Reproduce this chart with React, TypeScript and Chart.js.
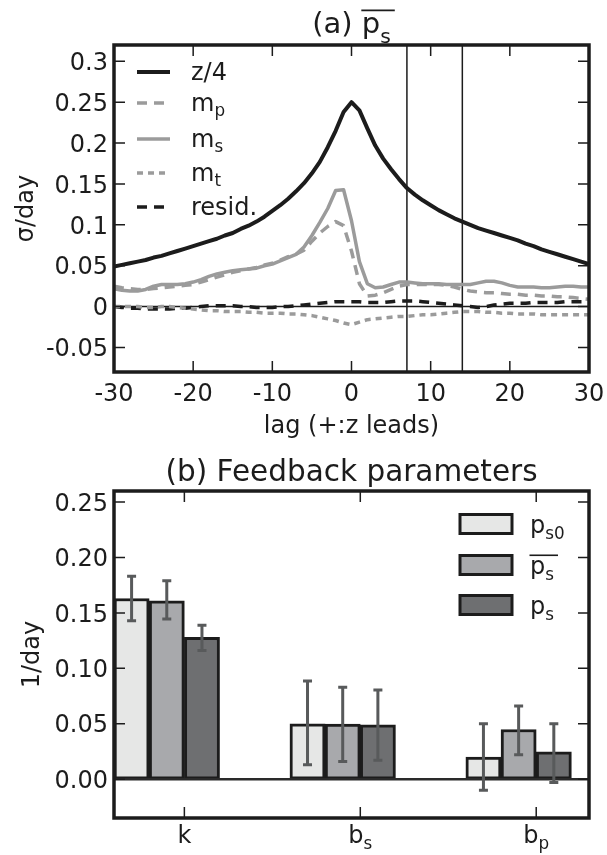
import React, { useEffect, useRef } from 'react';
import { Chart, registerables } from 'chart.js';

Chart.register(...registerables);

const FONT = '"DejaVu Sans", "Liberation Sans", sans-serif';
const INK = '#1c1c1c';
const GRAY = '#9b9b9b';

// ---------- (a) panel data ----------
const lags = [
  -30, -29, -28, -27, -26, -25, -24, -23, -22, -21, -20, -19, -18, -17, -16, -15, -14, -13, -12, -11,
  -10, -9, -8, -7, -6, -5, -4, -3, -2, -1, 0, 1, 2, 3, 4, 5, 6, 7, 8, 9, 10, 11, 12, 13, 14, 15, 16,
  17, 18, 19, 20, 21, 22, 23, 24, 25, 26, 27, 28, 29, 30,
];
const zQuarter = [
  0.049, 0.051, 0.053, 0.055, 0.057, 0.06, 0.062, 0.065, 0.068, 0.071, 0.074, 0.077, 0.08, 0.083, 0.087,
  0.09, 0.095, 0.099, 0.104, 0.11, 0.117, 0.124, 0.132, 0.141, 0.151, 0.163, 0.177, 0.195, 0.215, 0.238,
  0.25, 0.24, 0.218, 0.197, 0.181, 0.168, 0.156, 0.145, 0.137, 0.13, 0.124, 0.118, 0.113, 0.108, 0.104,
  0.1, 0.096, 0.093, 0.09, 0.087, 0.084, 0.081, 0.077, 0.074, 0.07, 0.067, 0.064, 0.061, 0.058, 0.055, 0.052,
];
const mP = [
  0.025, 0.023, 0.022, 0.021, 0.021, 0.022, 0.023, 0.024, 0.025, 0.026, 0.027, 0.03, 0.033, 0.036, 0.039,
  0.042, 0.044, 0.046, 0.048, 0.051, 0.053, 0.057, 0.061, 0.064, 0.069, 0.08, 0.09, 0.098, 0.104, 0.099,
  0.068, 0.028, 0.013, 0.014, 0.017, 0.021, 0.025, 0.027, 0.027, 0.027, 0.027, 0.027, 0.026, 0.024, 0.021,
  0.019, 0.018, 0.017, 0.017, 0.016, 0.015, 0.015, 0.014, 0.014, 0.013, 0.013, 0.012, 0.012, 0.011, 0.01, 0.009,
];
const mS = [
  0.022, 0.02, 0.019, 0.019, 0.021, 0.025, 0.027, 0.027, 0.027, 0.028, 0.03, 0.033, 0.037, 0.04, 0.042,
  0.044, 0.045, 0.046, 0.047, 0.05, 0.052, 0.056, 0.06, 0.064, 0.073, 0.087, 0.103, 0.12, 0.142, 0.143,
  0.105, 0.055, 0.028, 0.023, 0.024, 0.027, 0.03, 0.03, 0.029, 0.028, 0.028, 0.028, 0.027, 0.027, 0.027,
  0.027, 0.029, 0.031, 0.031, 0.029, 0.026, 0.024, 0.024, 0.024, 0.023, 0.023, 0.024, 0.025, 0.025, 0.024, 0.024,
];
const mT = [
  0.0, 0.0, 0.0, 0.0, -0.001, -0.001, 0.0, 0.0, -0.001, -0.002, -0.003, -0.004, -0.005, -0.005, -0.006,
  -0.006, -0.006, -0.007, -0.007, -0.008, -0.008, -0.008, -0.009, -0.009, -0.01, -0.011, -0.013, -0.015,
  -0.017, -0.02, -0.022, -0.019, -0.016, -0.015, -0.014, -0.013, -0.012, -0.012, -0.011, -0.01, -0.01,
  -0.009, -0.008, -0.007, -0.006, -0.006, -0.006, -0.007, -0.007, -0.008, -0.008, -0.009, -0.009, -0.009,
  -0.01, -0.01, -0.01, -0.01, -0.01, -0.01, -0.01,
];
const resid = [
  0.0, -0.001, -0.002, -0.002, -0.003, -0.003, -0.003, -0.003, -0.002, -0.002, -0.001, 0.0, 0.001, 0.001,
  0.001, 0.001, 0.0, 0.0, -0.001, -0.001, -0.001, 0.0, 0.0, 0.001, 0.002, 0.003, 0.004, 0.005, 0.006, 0.006,
  0.006, 0.006, 0.005, 0.005, 0.005, 0.006, 0.007, 0.007, 0.007, 0.006, 0.005, 0.004, 0.003, 0.002, 0.001,
  0.0, -0.001, 0.0, 0.002, 0.003, 0.004, 0.004, 0.004, 0.005, 0.005, 0.005, 0.005, 0.006, 0.006, 0.006, 0.006,
];
const lineLabels = ['z/4', 'm_p', 'm_s', 'm_t', 'resid.'];
const markerLags = [7, 14];
const topXTicks = [-30, -20, -10, 0, 10, 20, 30];
const topYTicks = [-0.05, 0, 0.05, 0.1, 0.15, 0.2, 0.25, 0.3];
const topTitle = ['(a) ', '‾p_s'];
const topXLabel = 'lag (+:z leads)';
const topYLabel = 'σ/day';

// ---------- (b) panel data ----------
const paramNames = ['k', 'b_s', 'b_p'];
const paramPositions = [0, 1, 2];
const groupOffsets = [-0.3, -0.1, 0.1];
const barLabels = ['p_s0', '‾p_s', 'p_s'];
const barPs0 = [0.163, 0.05, 0.02];
const barPsBar = [0.161, 0.0497, 0.0448];
const barPs = [0.128, 0.049, 0.0246];
const errLowPs0 = [0.143, 0.013, -0.01];
const errHighPs0 = [0.183, 0.0885, 0.05];
const errLowPsBar = [0.1445, 0.016, 0.022];
const errHighPsBar = [0.179, 0.083, 0.066];
const errLowPs = [0.116, 0.017, -0.003];
const errHighPs = [0.139, 0.0805, 0.05];
const botYTicks = [0, 0.05, 0.1, 0.15, 0.2, 0.25];
const botTitle = ['(b) Feedback parameters'];
const botYLabel = '1/day';

const barColors = ['#e6e7e6', '#a8a9ac', '#6e6f71'];

const TOP_H = 445;
const BOT_H = 855 - TOP_H;

// ---------- rich text helpers ----------
function parseLabel(s: string) {
  let over = false;
  if (s.startsWith('‾')) {
    over = true;
    s = s.slice(1);
  }
  const i = s.indexOf('_');
  return { main: i < 0 ? s : s.slice(0, i), sub: i < 0 ? '' : s.slice(i + 1), over };
}

function measureRich(ctx: CanvasRenderingContext2D, s: string, size: number) {
  const { main, sub } = parseLabel(s);
  ctx.font = `${size}px ${FONT}`;
  const w1 = ctx.measureText(main).width;
  ctx.font = `${size * 0.7}px ${FONT}`;
  const w2 = sub ? ctx.measureText(sub).width : 0;
  return { w1, w2, w: w1 + w2 };
}

function drawRich(
  ctx: CanvasRenderingContext2D,
  s: string,
  x: number,
  y: number,
  size: number,
  subShift = 0.22,
) {
  const { main, sub, over } = parseLabel(s);
  const m = measureRich(ctx, s, size);
  ctx.fillStyle = INK;
  ctx.textAlign = 'left';
  ctx.textBaseline = 'alphabetic';
  ctx.font = `${size}px ${FONT}`;
  ctx.fillText(main, x, y);
  if (sub) {
    ctx.font = `${size * 0.7}px ${FONT}`;
    ctx.fillText(sub, x + m.w1, y + size * subShift);
  }
  if (over) {
    ctx.save();
    ctx.strokeStyle = INK;
    ctx.lineWidth = 1.6;
    ctx.beginPath();
    const oy = y - size * 0.78;
    ctx.moveTo(x - 0.5, oy);
    ctx.lineTo(x + m.w + 4, oy);
    ctx.stroke();
    ctx.restore();
  }
  return m.w;
}

function drawRichSeq(
  ctx: CanvasRenderingContext2D,
  parts: string[],
  cx: number,
  y: number,
  size: number,
  subShift = 0.22,
) {
  const total = parts.reduce((a, p) => a + measureRich(ctx, p, size).w, 0);
  let x = cx - total / 2;
  for (const p of parts) x += drawRich(ctx, p, x, y, size, subShift);
}

function drawFrameAndTicks(chart: any, xTicks: number[], yTicks: number[]) {
  const { ctx, chartArea: a } = chart;
  const xs = chart.scales.x;
  const ys = chart.scales.y;
  const L = 11;
  ctx.save();
  ctx.strokeStyle = INK;
  ctx.lineWidth = 1.5;
  ctx.beginPath();
  for (const v of xTicks) {
    const px = xs.getPixelForValue(v);
    ctx.moveTo(px, a.bottom);
    ctx.lineTo(px, a.bottom - L);
    ctx.moveTo(px, a.top);
    ctx.lineTo(px, a.top + L);
  }
  for (const v of yTicks) {
    const py = ys.getPixelForValue(v);
    ctx.moveTo(a.left, py);
    ctx.lineTo(a.left + L, py);
    ctx.moveTo(a.right, py);
    ctx.lineTo(a.right - L, py);
  }
  ctx.stroke();
  ctx.lineWidth = 3.5;
  ctx.strokeRect(a.left, a.top, a.right - a.left, a.bottom - a.top);
  ctx.restore();
}

function drawRotated(ctx: CanvasRenderingContext2D, text: string, x: number, y: number, size: number) {
  ctx.save();
  ctx.translate(x, y);
  ctx.rotate(-Math.PI / 2);
  ctx.font = `${size}px ${FONT}`;
  ctx.fillStyle = INK;
  ctx.textAlign = 'center';
  ctx.textBaseline = 'alphabetic';
  ctx.fillText(text, 0, 0);
  ctx.restore();
}

const fmtTop = (v: number) => String(Number(v.toFixed(2)));

const topPlugin = {
  id: 'topDecor',
  beforeDatasetsDraw(chart: any) {
    const { ctx, chartArea: a } = chart;
    const xs = chart.scales.x;
    const ys = chart.scales.y;
    ctx.save();
    ctx.strokeStyle = INK;
    ctx.lineWidth = 1.5;
    ctx.beginPath();
    const y0 = ys.getPixelForValue(0);
    ctx.moveTo(a.left, y0);
    ctx.lineTo(a.right, y0);
    for (const m of markerLags) {
      const px = xs.getPixelForValue(m);
      ctx.moveTo(px, a.top);
      ctx.lineTo(px, a.bottom);
    }
    ctx.stroke();
    ctx.restore();
  },
  afterDraw(chart: any) {
    const { ctx, chartArea: a } = chart;
    const xs = chart.scales.x;
    const ys = chart.scales.y;
    drawFrameAndTicks(chart, topXTicks, topYTicks);
    ctx.save();
    ctx.fillStyle = INK;
    ctx.font = `24px ${FONT}`;
    ctx.textBaseline = 'alphabetic';
    ctx.textAlign = 'right';
    for (const v of topYTicks) {
      ctx.fillText(fmtTop(v), a.left - 6, ys.getPixelForValue(v) + 8.7);
    }
    ctx.textAlign = 'center';
    for (const v of topXTicks) {
      ctx.fillText(String(v), xs.getPixelForValue(v), a.bottom + 28.5);
    }
    ctx.fillText(topXLabel, (a.left + a.right) / 2, a.bottom + 61);
    ctx.restore();
    drawRotated(ctx, topYLabel, 33, (a.top + a.bottom) / 2, 24);
    drawRichSeq(ctx, topTitle, (a.left + a.right) / 2, a.top - 12, 29, 0.34);

    // legend
    const rows = [27, 58, 94, 128, 162];
    const ds = chart.data.datasets;
    rows.forEach((dy, i) => {
      const ry = a.top + dy;
      const d = ds[i];
      ctx.save();
      ctx.strokeStyle = d.borderColor;
      ctx.lineWidth = d.borderWidth;
      ctx.setLineDash(d.borderDash || []);
      ctx.beginPath();
      ctx.moveTo(a.left + 23, ry);
      ctx.lineTo(a.left + 56, ry);
      ctx.stroke();
      ctx.restore();
      drawRich(ctx, lineLabels[i], a.left + 77, ry + 8, 24, 0.22);
    });
  },
};

const errLows = [errLowPs0, errLowPsBar, errLowPs];
const errHighs = [errHighPs0, errHighPsBar, errHighPs];

const botPlugin = {
  id: 'botDecor',
  afterDatasetsDraw(chart: any) {
    const { ctx, chartArea: a } = chart;
    const ys = chart.scales.y;
    ctx.save();
    ctx.strokeStyle = '#2a2a2a';
    ctx.lineWidth = 2.5;
    ctx.beginPath();
    const y0 = ys.getPixelForValue(0);
    ctx.moveTo(a.left, y0);
    ctx.lineTo(a.right, y0);
    ctx.stroke();
    // error bars
    ctx.strokeStyle = '#585a5b';
    ctx.lineWidth = 3;
    chart.data.datasets.forEach((_: any, d: number) => {
      const meta = chart.getDatasetMeta(d);
      meta.data.forEach((el: any, i: number) => {
        const x = el.x;
        const yl = ys.getPixelForValue(errLows[d][i]);
        const yh = ys.getPixelForValue(errHighs[d][i]);
        ctx.beginPath();
        ctx.moveTo(x, yl);
        ctx.lineTo(x, yh);
        ctx.moveTo(x - 4.5, yl);
        ctx.lineTo(x + 4.5, yl);
        ctx.moveTo(x - 4.5, yh);
        ctx.lineTo(x + 4.5, yh);
        ctx.stroke();
      });
    });
    ctx.restore();
  },
  afterDraw(chart: any) {
    const { ctx, chartArea: a } = chart;
    const xs = chart.scales.x;
    const ys = chart.scales.y;
    drawFrameAndTicks(chart, paramPositions, botYTicks);
    ctx.save();
    ctx.fillStyle = INK;
    ctx.font = `24px ${FONT}`;
    ctx.textBaseline = 'alphabetic';
    ctx.textAlign = 'right';
    for (const v of botYTicks) {
      ctx.fillText(v.toFixed(2), a.left - 6, ys.getPixelForValue(v) + 8.7);
    }
    ctx.restore();
    paramNames.forEach((n, i) => {
      drawRichSeq(ctx, [n], xs.getPixelForValue(paramPositions[i]), a.bottom + 25, 24, 0.25);
    });
    drawRotated(ctx, botYLabel, 39, (a.top + a.bottom) / 2, 24);
    drawRichSeq(ctx, botTitle, (a.left + a.right) / 2, a.top - 10, 29.5);

    // legend
    const rows = [33, 74, 114];
    rows.forEach((dy, i) => {
      const cy = a.top + dy;
      ctx.save();
      ctx.fillStyle = barColors[i];
      ctx.fillRect(a.right - 129, cy - 9.5, 52, 19);
      ctx.strokeStyle = INK;
      ctx.lineWidth = 3;
      ctx.strokeRect(a.right - 129, cy - 9.5, 52, 19);
      ctx.restore();
      drawRich(ctx, barLabels[i], a.right - 59, cy + 9, 24, 0.26);
    });
  },
};

export default function App() {
  const topRef = useRef<HTMLCanvasElement>(null);
  const botRef = useRef<HTMLCanvasElement>(null);

  useEffect(() => {
    const series = [
      { vals: zQuarter, color: INK, width: 4, dash: [] as number[] },
      { vals: mP, color: GRAY, width: 3.5, dash: [10, 7] },
      { vals: mS, color: GRAY, width: 3.5, dash: [] as number[] },
      { vals: mT, color: GRAY, width: 3.5, dash: [6, 5] },
      { vals: resid, color: INK, width: 3.5, dash: [10, 7] },
    ];
    const top = new Chart(topRef.current as HTMLCanvasElement, {
      type: 'line',
      data: {
        datasets: series.map((s, i) => ({
          label: lineLabels[i],
          data: lags.map((x, j) => ({ x, y: s.vals[j] })),
          borderColor: s.color,
          borderWidth: s.width,
          borderDash: s.dash,
          borderCapStyle: 'butt',
          borderJoinStyle: 'round',
          pointRadius: 0,
          tension: 0,
          fill: false,
        })),
      } as any,
      options: {
        animation: false,
        responsive: false,
        devicePixelRatio: 1,
        layout: { padding: { left: 114, right: 18, top: 45, bottom: TOP_H - 372 } },
        plugins: { legend: { display: false }, tooltip: { enabled: false }, title: { display: false } },
        scales: {
          x: { type: 'linear', min: -30, max: 30, display: false },
          y: { type: 'linear', min: -0.08, max: 0.32, display: false },
        },
      } as any,
      plugins: [topPlugin],
    });

    const barSeries = [barPs0, barPsBar, barPs];
    const bot = new Chart(botRef.current as HTMLCanvasElement, {
      type: 'bar',
      data: {
        datasets: barSeries.map((vals, d) => ({
          label: barLabels[d],
          data: paramPositions.map((p, i) => ({ x: p + groupOffsets[d], y: vals[i] })),
          backgroundColor: barColors[d],
          borderColor: INK,
          borderWidth: 3,
          borderSkipped: false,
          grouped: false,
          barPercentage: 1,
          categoryPercentage: 1,
        })),
      } as any,
      options: {
        animation: false,
        responsive: false,
        devicePixelRatio: 1,
        layout: { padding: { left: 114, right: 18, top: 491 - TOP_H, bottom: 855 - 818 } },
        plugins: { legend: { display: false }, tooltip: { enabled: false }, title: { display: false } },
        scales: {
          x: {
            type: 'linear',
            min: -0.4,
            max: 2.3,
            offset: false,
            display: false,
            afterBuildTicks: (s: any) => {
              s.ticks = paramPositions.map((v) => ({ value: v }));
            },
          },
          y: { type: 'linear', min: -0.035, max: 0.26, display: false },
        },
      } as any,
      plugins: [botPlugin],
    });

    return () => {
      top.destroy();
      bot.destroy();
    };
  }, []);

  return (
    <div style={{ position: 'absolute', left: 0, top: 0, width: 607, height: 855, background: '#fff' }}>
      <canvas
        ref={topRef}
        width={607}
        height={TOP_H}
        style={{ position: 'absolute', left: 0, top: 0, width: 607, height: TOP_H, display: 'block' }}
      />
      <canvas
        ref={botRef}
        width={607}
        height={BOT_H}
        style={{ position: 'absolute', left: 0, top: TOP_H, width: 607, height: BOT_H, display: 'block' }}
      />
    </div>
  );
}
